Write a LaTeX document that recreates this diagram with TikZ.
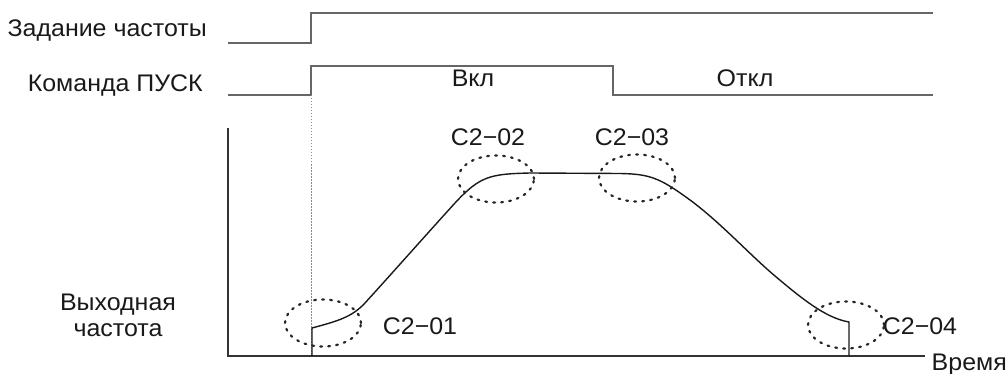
\documentclass[tikz,border=0pt]{standalone}
\usepackage{fontspec}
\setmainfont[FakeStretch=1.04]{Liberation Sans}
\usetikzlibrary{shapes.geometric}
\begin{document}
\begin{tikzpicture}[x=1pt,y=-1pt,
  lbl/.style={font=\fontsize{24}{27}\selectfont, inner sep=0pt, text=black!90},
  sig/.style={draw=black!60, line width=1.3pt},
  axis/.style={draw=black!80, line width=1.3pt},
  curve/.style={draw=black!90, line width=1.4pt, line join=round},
  zone/.style={draw=black!85, ellipse, line width=2.2pt, dash pattern=on 1.8pt off 6.2pt, line cap=round, minimum width=76pt, minimum height=47pt, inner sep=0pt},
  guide/.style={draw=black!45, line width=0.7pt, dash pattern=on 1.5pt off 1.5pt}]
\useasboundingbox (0,0) rectangle (1008,374);
% labels
\node[lbl, anchor=base east] (tf) at (207,37) {Задание частоты};
\node[lbl, anchor=base east] (tr) at (203,92) {Команда ПУСК};
\node[lbl, anchor=base] (on) at (473,87) {Вкл};
\node[lbl, anchor=base] (off) at (745,87) {Откл};
\node[lbl, anchor=base] (out1) at (118,310) {Выходная};
\node[lbl, anchor=base] (out2) at (118,336) {частота};
\node[lbl, anchor=base east] (t) at (1007,370) {Время};
% frequency reference signal
\coordinate (f0) at (228,43);
\coordinate (f1) at (311,43);
\coordinate (f2) at (311,13);
\coordinate (f3) at (933,13);
\draw[sig] (f0) -- (f1) -- (f2) -- (f3);
% run command signal
\coordinate (r0) at (228,95);
\coordinate (r1) at (311,95);
\coordinate (r2) at (311,66);
\coordinate (r3) at (613,66);
\coordinate (r4) at (613,95);
\coordinate (r5) at (933,95);
\draw[sig] (r0) -- (r1) -- (r2) -- (r3) -- (r4) -- (r5);
% guide line
\coordinate (g1) at (311,356);
\draw[guide] (r1) -- (g1);
% axes
\coordinate (ay) at (228,128);
\coordinate (o) at (228,356);
\coordinate (ax) at (925,356);
\draw[axis] (ay) -- (o) -- (ax);
% output frequency curve
\coordinate (c0) at (312,356);
\coordinate (c1) at (312,328);
\coordinate (c2) at (365,303);
\coordinate (c3) at (455,203);
\coordinate (c4) at (530,173);
\coordinate (c5) at (620,173.5);
\coordinate (c6) at (690,200);
\coordinate (c7) at (775,276);
\coordinate (c8) at (849,322);
\coordinate (c9) at (849,356);
\draw[curve] (c0) -- (c1)
  .. controls (338,321) and (352,317) .. (c2)
  .. controls (395,270) and (425,236) .. (c3)
  .. controls (480,176) and (490,174) .. (c4)
  -- (c5)
  .. controls (650,174) and (660,178) .. (c6)
  .. controls (720,222) and (750,255) .. (c7)
  .. controls (800,297) and (825,318) .. (c8)
  -- (c9);
% S-curve zones
\node[zone] (z1) at (323,323) {};
\node[zone] (z2) at (496,179) {};
\node[zone] (z3) at (637,178) {};
\node[zone] (z4) at (846,325) {};
\node[lbl, anchor=base] (l1) at (420,334) {C2−01};
\node[lbl, anchor=base] (l2) at (488,146) {C2−02};
\node[lbl, anchor=base] (l3) at (632,146) {C2−03};
\node[lbl, anchor=base] (l4) at (920,334) {C2−04};
\end{tikzpicture}
\end{document}
